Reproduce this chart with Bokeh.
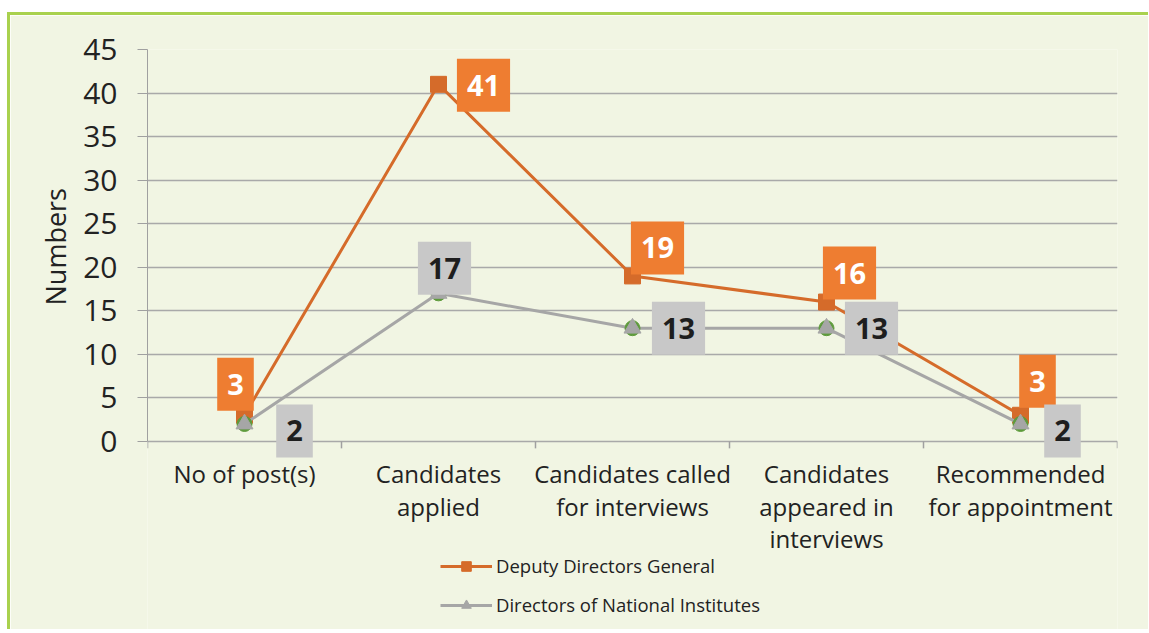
from bokeh.plotting import figure
from bokeh.models import (Range1d, FixedTicker, LinearAxis, Legend, LegendItem, ColumnDataSource, Title)
from bokeh.core.properties import value
from bokeh.embed import file_html
from bokeh.resources import INLINE

categories = ["No of post(s)", "Candidates\napplied", "Candidates called\nfor interviews",
              "Candidates\nappeared in\ninterviews", "Recommended\nfor appointment"]
ddg = [3, 41, 19, 16, 3]
dni = [2, 17, 13, 13, 2]
y_ticks = [0, 5, 10, 15, 20, 25, 30, 35, 40, 45]

FONT = "Open Sans"
ORANGE_LINE = "#d56b2a"
ORANGE_BOX = "#ee7d31"
GRAY_LINE = "#a6a6a6"
GRAY_BOX = "#c8c8c8"
AXIS = "#a0a0a0"
BG = "#f1f5e3"

n = len(categories)
xs = [i + 0.5 for i in range(n)]
bounds = list(range(n + 1))

# the frame extends below zero so that category labels and legend sit inside it
p = figure(frame_width=970, frame_height=580, output_backend="svg", toolbar_location=None,
           x_range=Range1d(0, n), y_range=Range1d(-21.6, 45),
           min_border_left=137, min_border_top=34, min_border_right=31, min_border_bottom=0,
           x_axis_location=None, y_axis_location=None)
p.styles = {"margin-top": "12px", "margin-left": "7px",
            "border-top": "3px solid #a9d14e", "border-left": "3px solid #a9d14e"}
p.background_fill_color = BG
p.border_fill_color = BG
p.outline_line_color = None

# y axis
yaxis = LinearAxis(ticker=FixedTicker(ticks=y_ticks), bounds=(0, 45))
yaxis.axis_line_color = AXIS
yaxis.major_tick_line_color = AXIS
yaxis.major_tick_out = 10
yaxis.major_tick_in = 0
yaxis.minor_tick_line_color = None
yaxis.major_label_text_font = FONT
yaxis.major_label_text_font_size = "30px"
yaxis.major_label_text_color = "#222222"
yaxis.major_label_standoff = 20
p.add_layout(yaxis, "left")

# y axis title, placed beside the 0-45 part of the axis
ytitle = Title(text="Numbers", align="left", offset=324, text_font=FONT,
               text_font_size="27px", text_font_style="normal", text_color="#222222",
               standoff=14)
p.add_layout(ytitle, "left")

# grid (also serves as the x axis line at zero)
p.xgrid.grid_line_color = None
p.ygrid.ticker = FixedTicker(ticks=y_ticks)
p.ygrid.grid_line_color = "#a9a9a9"
p.ygrid.grid_line_width = 1.5

# category boundary tick marks below the x axis line
p.segment(x0=bounds, y0=[0] * len(bounds), x1=bounds, y1=[-0.8] * len(bounds),
          line_color=AXIS, line_width=1.5)

# category labels
p.text(x=xs, y=[0] * n, text=categories, text_font=value(FONT), text_font_size="24px",
       text_color="#222222", text_align="center", text_baseline="top",
       text_line_height=0.98, y_offset=16)

# series
l1 = p.line(xs, ddg, line_color=ORANGE_LINE, line_width=3)
s1 = p.scatter(xs, ddg, marker="square", size=16, fill_color=ORANGE_LINE, line_color=ORANGE_LINE)
l2 = p.line(xs, dni, line_color=GRAY_LINE, line_width=3)
p.scatter(xs, dni, marker="circle", size=15, fill_color="#5e9b3c", line_color="#5e9b3c")
s2 = p.scatter(xs, dni, marker="triangle", size=17, fill_color=GRAY_LINE, line_color=GRAY_LINE)

# data labels
ddg_dx = [-9, 45, 25, 23, 17]
ddg_dy = [-31, 1, -28, -29, -34]
dni_dx = [50, 6, 46, 45, 42]
dni_dy = [7, -25, 0, 0, 7]

src1 = ColumnDataSource(dict(x=xs, y=ddg, t=[str(v) for v in ddg], dx=ddg_dx, dy=ddg_dy))
src2 = ColumnDataSource(dict(x=xs, y=dni, t=[str(v) for v in dni], dx=dni_dx, dy=dni_dy))
common = dict(text_font=value(FONT), text_font_size="29px", text_font_style="bold",
              text_align="center", text_baseline="middle",
              padding=dict(left=10, right=10, top=16, bottom=16))
p.text(x="x", y="y", text="t", x_offset="dx", y_offset="dy", source=src1,
       text_color="white", background_fill_color=ORANGE_BOX, **common)
p.text(x="x", y="y", text="t", x_offset="dx", y_offset="dy", source=src2,
       text_color="#1e1e1e", background_fill_color=GRAY_BOX, **common)

legend = Legend(items=[LegendItem(label="Deputy Directors General", renderers=[l1, s1]),
                       LegendItem(label="Directors of National Institutes", renderers=[l2, s2])],
                location=(293, 12), orientation="vertical")
legend.background_fill_alpha = 0
legend.border_line_color = None
legend.margin = 0
legend.padding = 0
legend.label_text_font = FONT
legend.label_text_font_size = "18.5px"
legend.label_text_color = "#222222"
legend.label_height = 24
legend.glyph_width = 52
legend.glyph_height = 24
legend.spacing = 14
legend.label_standoff = 4
p.add_layout(legend, "center")

open("out.html", "w").write(file_html(p, INLINE))
